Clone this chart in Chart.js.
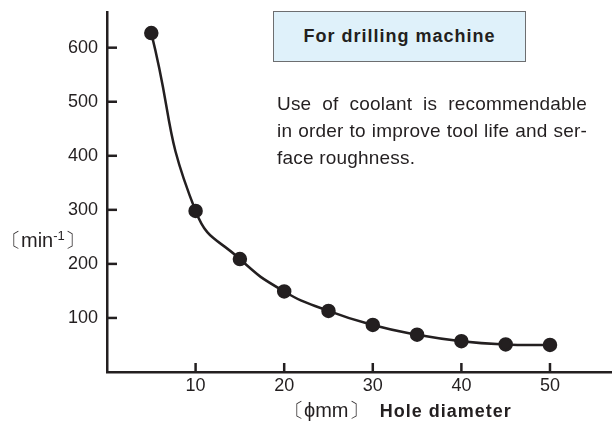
<!DOCTYPE html>
<html>
<head>
<meta charset="utf-8">
<script src="https://cdn.jsdelivr.net/npm/chart.js@4"></script>
<style>
  body { margin: 0; background: #fff; }
  #wrap { position: relative; width: 612px; height: 430px; font-family: "Liberation Sans", Arial, sans-serif; color: #231f20; }
  #myChart { position: absolute; left: 0; top: 0; }
  .box { position: absolute; left: 273px; top: 11px; width: 251px; height: 49px; border: 1px solid #6d6e70; background: #dff1fa;
         font-size: 18px; font-weight: bold; text-align: center; line-height: 49px; letter-spacing: 1px; }
  .note { position: absolute; left: 277px; top: 90px; width: 310px; font-size: 19px; line-height: 27px; letter-spacing: 0.2px; }
  .note div { text-align: justify; text-align-last: justify; }
  .note div.last { text-align-last: left; }
  .ytitle { position: absolute; left: 1px; top: 227px; font-size: 20px; }
  .ytitle sup { font-size: 13px; vertical-align: 7px; }
  .xtitle { position: absolute; left: 284px; top: 397px; font-size: 20px; white-space: pre; }
  .xtitle b { font-weight: bold; font-size: 18px; letter-spacing: 1px; }
</style>
</head>
<body>
<div id="wrap">
  <canvas id="myChart" width="612" height="430"></canvas>
  <div class="box">For drilling machine</div>
  <div class="note">
    <div>Use of coolant is recommendable</div>
    <div>in order to improve tool life and ser-</div>
    <div class="last">face roughness.</div>
  </div>
  <div class="ytitle">〔min<sup>-1</sup>〕</div>
  <div class="xtitle">〔ϕmm〕  <b>Hole diameter</b></div>
</div>
<script>
var diameters = [5, 10, 15, 20, 25, 30, 35, 40, 45, 50];
var speeds = [627, 298, 209, 149, 113, 87, 69, 57, 51, 50];
var xTicks = [10, 20, 30, 40, 50];
var yTicks = [100, 200, 300, 400, 500, 600];

var ink = '#231f20';

// tick marks point inward, so draw them ourselves
var innerTicks = {
  id: 'innerTicks',
  afterDraw: function(chart) {
    var c = chart.ctx, xs = chart.scales.x, ys = chart.scales.y;
    var area = chart.chartArea;
    c.save();
    c.strokeStyle = ink;
    c.lineWidth = 2.5;
    xTicks.forEach(function(v) {
      var px = xs.getPixelForValue(v);
      c.beginPath(); c.moveTo(px, area.bottom); c.lineTo(px, area.bottom - 9); c.stroke();
    });
    yTicks.forEach(function(v) {
      var py = ys.getPixelForValue(v);
      c.beginPath(); c.moveTo(area.left, py); c.lineTo(area.left + 10, py); c.stroke();
    });
    c.restore();
  }
};

var ctx = document.getElementById('myChart');
new Chart(ctx, {
  type: 'line',
  data: {
    datasets: [{
      data: diameters.map(function(d, i) { return { x: d, y: speeds[i] }; }),
      borderColor: ink,
      backgroundColor: ink,
      borderWidth: 2.5,
      pointRadius: 6,
      pointHoverRadius: 6,
      tension: 0.5
    }]
  },
  options: {
    responsive: false,
    animation: false,
    layout: { autoPadding: false, padding: { top: 12, right: 0, left: 0, bottom: 0 } },
    plugins: { legend: { display: false }, tooltip: { enabled: false } },
    scales: {
      x: {
        type: 'linear',
        min: 0,
        max: 57,
        afterBuildTicks: function(s) { s.ticks = xTicks.map(function(v) { return { value: v }; }); },
        afterFit: function(s) { s.height = 58; s.paddingLeft = 0; s.paddingRight = 0; },
        grid: { display: false, drawTicks: false },
        border: { display: true, color: ink, width: 2.5 },
        ticks: { color: ink, padding: 3, maxRotation: 0, font: { family: 'Liberation Sans', size: 18 } }
      },
      y: {
        type: 'linear',
        min: 0,
        max: 666,
        afterBuildTicks: function(s) { s.ticks = yTicks.map(function(v) { return { value: v }; }); },
        afterFit: function(s) { s.width = 107; s.paddingTop = 0; s.paddingBottom = 0; },
        grid: { display: false, drawTicks: false },
        border: { display: true, color: ink, width: 2.5 },
        ticks: { color: ink, padding: 9, font: { family: 'Liberation Sans', size: 18 } }
      }
    }
  },
  plugins: [innerTicks]
});
</script>
</body>
</html>
